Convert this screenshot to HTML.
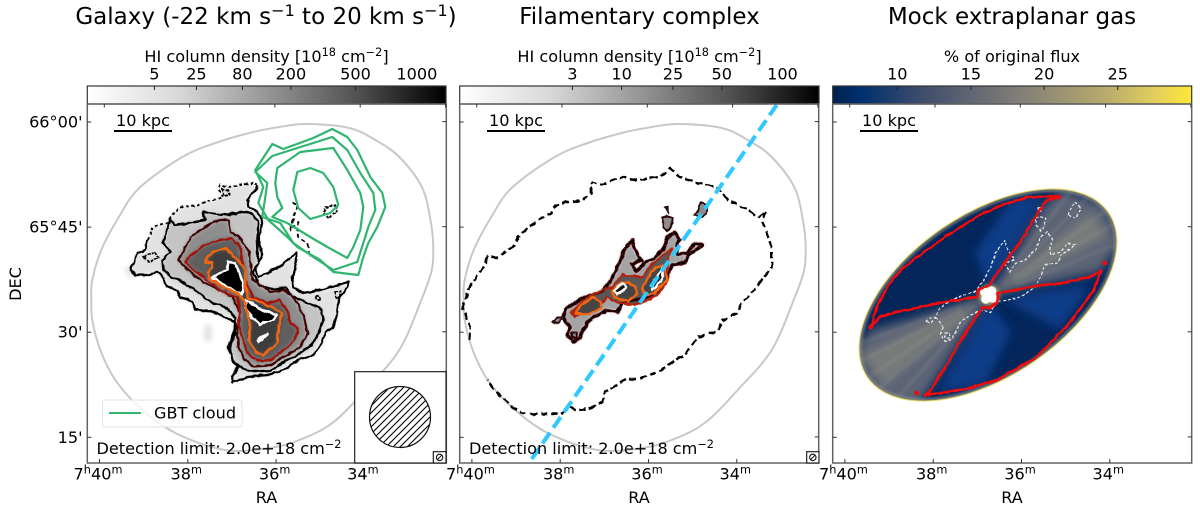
<!DOCTYPE html>
<html lang="en">
<head>
<meta charset="utf-8">
<title>HI column density maps</title>
<style>
  html, body { margin: 0; padding: 0; background: #fff; }
  svg { display: block; font-family: "DejaVu Sans", "Liberation Sans", sans-serif; fill: #000; }
</style>
</head>
<body>
<svg id="figure" xmlns="http://www.w3.org/2000/svg" width="1200" height="509" viewBox="0 0 1200 509">
  <defs>
    <linearGradient id="greys" x1="0" x2="1" y1="0" y2="0">
      <stop offset="0" stop-color="#ffffff"/><stop offset="0.25" stop-color="#d9d9d9"/>
      <stop offset="0.5" stop-color="#969696"/><stop offset="0.75" stop-color="#525252"/>
      <stop offset="1" stop-color="#000000"/>
    </linearGradient>
    <linearGradient id="cividis" x1="0" x2="1" y1="0" y2="0">
      <stop offset="0" stop-color="#00224e"/><stop offset="0.08" stop-color="#00306f"/>
      <stop offset="0.25" stop-color="#3f4d6c"/><stop offset="0.5" stop-color="#7c7b78"/>
      <stop offset="0.75" stop-color="#b5a86e"/><stop offset="0.9" stop-color="#e3cf5c"/>
      <stop offset="1" stop-color="#fee838"/>
    </linearGradient>
    <filter id="blur1" filterUnits="userSpaceOnUse" x="0" y="0" width="1200" height="509"><feGaussianBlur stdDeviation="1.2"/></filter>
    <filter id="blur3" filterUnits="userSpaceOnUse" x="0" y="0" width="1200" height="509"><feGaussianBlur stdDeviation="2.5"/></filter>
    <filter id="blur8" filterUnits="userSpaceOnUse" x="0" y="0" width="1200" height="509"><feGaussianBlur stdDeviation="9"/></filter>
    <filter id="blur5" filterUnits="userSpaceOnUse" x="0" y="0" width="1200" height="509"><feGaussianBlur stdDeviation="5"/></filter>
    <filter id="wiggle" filterUnits="userSpaceOnUse" x="0" y="0" width="1200" height="509" color-interpolation-filters="sRGB">
      <feTurbulence type="fractalNoise" baseFrequency="0.13" numOctaves="2" seed="4" result="n"/>
      <feDisplacementMap in="SourceGraphic" in2="n" scale="4" xChannelSelector="R" yChannelSelector="G"/>
    </filter>
    <filter id="wiggle-soft" filterUnits="userSpaceOnUse" x="0" y="0" width="1200" height="509" color-interpolation-filters="sRGB">
      <feTurbulence type="fractalNoise" baseFrequency="0.16" numOctaves="2" seed="9" result="n"/>
      <feDisplacementMap in="SourceGraphic" in2="n" scale="2.5" xChannelSelector="R" yChannelSelector="G"/>
    </filter>
    <pattern id="hatch" patternUnits="userSpaceOnUse" width="7" height="7">
      <path d="M-1,1 L1,-1 M0,7 L7,0 M6,8 L8,6" stroke="#000" stroke-width="1.1" fill="none"/>
    </pattern>
    <clipPath id="clip-0"><rect x="87.3" y="104" width="358.7" height="359"/></clipPath>
    <clipPath id="clip-1"><rect x="459.7" y="104" width="359.3" height="359"/></clipPath>
    <clipPath id="clip-2"><rect x="832.7" y="104" width="359" height="359"/></clipPath>
    <clipPath id="clip-ellipse"><ellipse cx="988" cy="295" rx="146" ry="81" transform="rotate(-34.3 988 295)"/></clipPath>
  </defs>

  <!-- titles -->
  <text x="266" y="24" font-size="23" text-anchor="middle">Galaxy (-22 km s<tspan dy="-8" font-size="16">−1</tspan><tspan dy="8"> to 20 km s</tspan><tspan dy="-8" font-size="16">−1</tspan><tspan dy="8">)</tspan></text>
  <text x="639.5" y="24" font-size="23" text-anchor="middle">Filamentary complex</text>
  <text x="1012" y="24" font-size="23" text-anchor="middle">Mock extraplanar gas</text>

  <!-- colourbar labels -->
  <text x="266.5" y="62" font-size="16.1" text-anchor="middle">HI column density [10<tspan dy="-6" font-size="11.3">18</tspan><tspan dy="6"> cm</tspan><tspan dy="-6" font-size="11.3">−2</tspan><tspan dy="6">]</tspan></text>
  <text x="639.5" y="62" font-size="16.1" text-anchor="middle">HI column density [10<tspan dy="-6" font-size="11.3">18</tspan><tspan dy="6"> cm</tspan><tspan dy="-6" font-size="11.3">−2</tspan><tspan dy="6">]</tspan></text>
  <text x="1012" y="62" font-size="16.1" text-anchor="middle">% of original flux</text>

  <!-- colourbars -->
  <rect x="87.3" y="86" width="358.7" height="18" fill="url(#greys)" stroke="#333" stroke-width="1.2"/>
  <rect x="459.7" y="86" width="359.3" height="18" fill="url(#greys)" stroke="#333" stroke-width="1.2"/>
  <rect x="832.7" y="86" width="359" height="18" fill="url(#cividis)" stroke="#333" stroke-width="1.2"/>

  <g id="panel-0"></g>
  <g id="panel-1"></g>
  <g id="panel-2"></g>

  <!-- axis titles -->
  <text transform="translate(21 284) rotate(-90)" font-size="16.1" text-anchor="middle">DEC</text>
  <text x="266.5" y="503" font-size="16.1" text-anchor="middle">RA</text>
  <text x="639" y="503" font-size="16.1" text-anchor="middle">RA</text>
  <text x="1012" y="503" font-size="16.1" text-anchor="middle">RA</text>

  <!-- legend + annotations panel 1 -->
  <g>
    <rect x="102.5" y="400" width="139.5" height="27" rx="2" fill="#fff" fill-opacity="0.8" stroke="#e2e2e2"/>
    <line x1="109" x2="141" y1="413" y2="413" stroke="#2fb56f" stroke-width="2"/>
    <text x="154" y="418.5" font-size="16.1">GBT cloud</text>
  </g>
  <text x="96.5" y="454" font-size="16.1">Detection limit: 2.0e+18 cm<tspan dy="-6" font-size="11.3">−2</tspan></text>
  <text x="469" y="454" font-size="16.1">Detection limit: 2.0e+18 cm<tspan dy="-6" font-size="11.3">−2</tspan></text>

  <rect x="354.7" y="371.7" width="91.3" height="91.3" fill="#fff" stroke="#111" stroke-width="1.1"/>
  <circle cx="400" cy="417" r="30.5" fill="url(#hatch)" stroke="#111" stroke-width="1.2"/>
  <rect x="433.3" y="451.7" width="12.7" height="11.3" fill="#fff" stroke="#111" stroke-width="1.1"/>
  <circle cx="439.6" cy="457.4" r="3.2" fill="none" stroke="#111" stroke-width="1.1"/>
  <line x1="437.4" y1="459.6" x2="441.8" y2="455.2" stroke="#111"/>
  <rect x="806.7" y="451.7" width="12.3" height="11.3" fill="#fff" stroke="#111" stroke-width="1.1"/>
  <circle cx="812.8" cy="457.4" r="3.2" fill="none" stroke="#111" stroke-width="1.1"/>
  <line x1="810.6" y1="459.6" x2="815" y2="455.2" stroke="#111"/>

  <!-- scale bars -->
  <g>
    <line x1="114" x2="172" y1="131" y2="131" stroke="#000" stroke-width="2"/>
    <text x="143" y="126" font-size="16.1" text-anchor="middle">10 kpc</text>
  </g>
  <g>
    <line x1="487" x2="545" y1="131" y2="131" stroke="#000" stroke-width="2"/>
    <text x="516" y="126" font-size="16.1" text-anchor="middle">10 kpc</text>
  </g>
  <g>
    <line x1="860" x2="918" y1="131" y2="131" stroke="#000" stroke-width="2"/>
    <text x="889" y="126" font-size="16.1" text-anchor="middle">10 kpc</text>
  </g>
</svg>

<script>
// ---------- axis values ----------
const raTicksMin = [40, 38, 36, 34];
const raTopTicksMin = [40, 38, 36, 34, 32];
const raTickLabels = ['40', '38', '36', '34'];
const decTicksArcmin = [0, 15, 30, 45];
const decTickLabels = ["66°00'", "65°45'", "30'", "15'"];

const colorbarGalaxyValues = [5, 25, 80, 200, 500, 1000];
const colorbarGalaxyFractions = [0.187, 0.304, 0.432, 0.567, 0.747, 0.918];
const colorbarFilamentValues = [3, 10, 25, 50, 100];
const colorbarFilamentFractions = [0.314, 0.451, 0.594, 0.73, 0.899];
const colorbarMockValues = [10, 15, 20, 25];
const colorbarMockFractions = [0.18, 0.385, 0.589, 0.794];

// ---------- map data: contour vertices in image-pixel coordinates of each map ----------
const galaxyFootprint = [[307,124],[349,128],[375,140],[399,157],[422,188],[431,225],[433,250],[431,272],[421,300],[399,350],[365,390],[332,423],[299,440],[269,448],[225,450],[175,433],[139,407],[115,380],[100,350],[92,320],[91,300],[92,280],[101,250],[118,218],[139,188],[182,157],[215,143],[249,133],[279,127]];

const galaxyLevel1Dotted = [[147,240],[153,227],[168,222],[173,213],[183,207],[197,205],[213,200],[223,197],[218,190],[220,185],[228,187],[240,185],[253,183],[258,186]];
const galaxyLevel1Solid = [[258,186],[247,200],[248,207],[258,212],[262,223],[258,240],[262,255],[255,268],[258,277],[277,268],[296,253],[296,262],[292,277],[293,288],[303,293],[320,290],[337,285],[348,282],[347,287],[337,303],[337,313],[333,327],[325,333],[320,345],[313,355],[297,360],[280,372],[267,375],[247,377],[232,383],[232,377],[238,367],[232,360],[230,347],[237,330],[235,322],[220,315],[210,312],[195,310],[192,302],[180,297],[177,290],[165,285],[163,277],[157,272],[147,275],[135,275],[130,270],[137,253],[145,250],[147,240]];
const galaxyLevel2 = [[245,212],[227,215],[203,212],[205,220],[190,223],[175,225],[170,220],[165,233],[163,243],[170,252],[162,260],[163,270],[172,278],[183,283],[197,292],[210,302],[227,308],[235,318],[234,332],[228,348],[235,363],[243,369],[255,372],[270,371],[283,362],[297,355],[312,345],[319,332],[323,320],[320,308],[307,303],[292,296],[285,288],[270,289],[258,285],[253,272],[258,262],[257,240],[258,222],[252,214]];
const galaxyLevel3 = [[228,220],[217,220],[203,228],[190,237],[182,253],[178,260],[187,270],[203,282],[220,290],[232,297],[240,313],[237,330],[238,347],[243,358],[253,366],[270,365],[287,355],[300,347],[307,333],[303,313],[292,296],[283,290],[270,292],[252,280],[250,265],[249,253],[238,236],[230,232]];
const galaxyLevel4 = [[232,238],[220,240],[203,245],[193,253],[185,262],[193,270],[207,280],[223,292],[237,298],[240,313],[238,323],[242,337],[247,353],[257,361],[270,360],[277,355],[287,348],[295,338],[298,328],[290,323],[288,313],[280,300],[267,303],[253,297],[245,280],[245,270],[241,257],[238,243]];
const galaxyLevel5 = [[205,262],[212,263],[212,268],[207,273],[212,280],[223,287],[237,293],[243,300],[250,322],[248,340],[255,352],[263,355],[277,343],[277,335],[280,323],[282,313],[270,307],[255,300],[248,298],[245,285],[245,270],[242,265],[233,255],[225,249],[212,252]];
const galaxyPeakA = [[212,277],[227,270],[228,262],[235,263],[240,275],[243,290],[242,295],[227,287]];
const galaxyPeakB = [[245,300],[252,303],[258,308],[267,312],[277,315],[273,320],[263,322],[260,325],[252,317],[245,308]];
const galaxyPeakC = [[257,340],[267,333],[265,337],[258,342]];
const galaxyIslands = [
  [[143,257],[155,252],[158,258],[148,262]],
  [[222,189],[228,190],[229,195],[224,196]],
  [[335,292],[340,291],[341,297],[336,299]],
  [[316,296],[320,296],[320,300],[316,300]],
  [[325,207],[337,205],[335,213],[328,218],[323,212]]
];
const galaxyDashBits = [[292,202],[297,205],[293,217],[290,230],[298,222],[297,237],[307,243],[310,257]];
const galaxyFaintPatches = [
  [[204,325],[211,325],[212,338],[208,343],[203,338]],
  [[124,268],[130,266],[136,276],[128,278]]
];

const gbtContour1 = [[272,144],[283,149],[313,138],[332,129],[347,137],[357,150],[370,177],[382,193],[385,207],[377,227],[368,243],[363,257],[358,275],[333,272],[320,260],[297,247],[287,237],[268,220],[258,203],[263,187],[255,170]];
const gbtContour2 = [[272,156],[297,148],[332,137],[347,150],[360,173],[373,193],[375,210],[368,227],[363,243],[357,262],[333,270],[313,257],[293,243],[280,223],[262,217],[265,197],[267,183],[255,172]];
const gbtContour3 = [[277,168],[300,152],[333,148],[347,170],[360,193],[363,207],[360,230],[353,247],[347,258],[327,247],[310,237],[287,223],[272,217],[282,208],[277,197],[275,183]];
const gbtContour4 = [[297,172],[310,168],[323,173],[333,187],[338,205],[330,213],[310,219],[298,208],[293,190]];

const filamentDetectionLimit = [[470,340],[471,327],[465,313],[463,308],[467,295],[472,283],[483,268],[488,257],[498,258],[515,245],[518,237],[538,220],[552,213],[555,205],[562,203],[583,200],[592,193],[590,185],[593,182],[602,185],[622,177],[638,180],[652,178],[663,175],[670,168],[677,175],[695,182],[718,188],[728,200],[745,208],[758,217],[767,212],[762,220],[772,247],[772,267],[757,287],[742,303],[738,313],[723,320],[718,331],[697,338],[685,355],[675,360],[662,370],[638,379],[627,379],[605,392],[602,402],[592,408],[575,410],[570,407],[562,414],[542,414],[523,413],[512,407],[505,400],[497,392],[487,380]];
const filamentLevel1 = [[570,327],[568,335],[573,342],[580,338],[587,323],[595,317],[607,310],[618,312],[623,302],[635,300],[648,297],[662,288],[668,277],[672,265],[685,263],[688,255],[703,245],[695,243],[688,252],[678,255],[677,247],[680,240],[675,232],[668,237],[663,250],[652,260],[643,263],[637,272],[632,263],[642,260],[635,250],[632,240],[623,253],[618,267],[610,282],[602,292],[585,297],[567,308],[563,317]];
const filamentLevel4 = [[612,287],[622,275],[642,277],[655,262],[672,248],[668,260],[668,280],[658,295],[635,305],[618,303],[608,297],[595,310],[575,317],[572,312],[588,297],[608,288]];
const filamentOrangeA = [[575,313],[582,305],[593,297],[600,302],[602,308],[592,312],[582,315]];
const filamentOrangeB = [[612,290],[622,282],[635,285],[637,293],[628,302],[615,297]];
const filamentOrangeC = [[643,287],[655,268],[665,265],[667,280],[655,293],[645,295]];
const filamentPeakA = [[614,290],[623,283],[626,288],[618,295]];
const filamentPeakB = [[652,290],[655,280],[663,268],[663,277],[657,287]];
const filamentIslands = [
  [[663,218],[667,216],[673,218],[672,226],[668,231],[664,226]],
  [[695,215],[699,207],[702,202],[708,208],[706,214],[703,218]],
  [[553,322],[557,318],[563,318],[558,323]],
  [[665,208],[668,207],[668,212]],
  [[572,333],[577,333],[577,338],[572,338]]
];
const filamentAxisLine = [[532,459],[777,105]];

const mockContourA = [[871,327],[877,307],[890,283],[903,268],[927,250],[953,232],[980,215],[1007,203],[1030,197],[1052,196],[1059,197],[1048,200],[1043,205],[1032,223],[1020,243],[1012,253],[1003,266],[995,277],[990,285],[978,290],[977,297],[940,303],[897,312],[880,317],[871,327]];
const mockContourB = [[1102,270],[1093,292],[1070,323],[1037,357],[997,380],[963,390],[925,395],[932,390],[937,380],[947,365],[963,337],[983,307],[990,308],[998,302],[998,293],[1043,285],[1063,283],[1090,277],[1102,270]];
const mockContourDots = [[871,327],[1059,197],[1105,263],[917,393]];
const mockGreyWedgeLeft = [[989,296],[871,330],[855,352],[878,398],[915,408],[932,385]];
const mockGreyWedgeRight = [[989,296],[1005,270],[1045,205],[1062,190],[1105,205],[1122,242],[1100,272]];
const mockGreyCoreLeft = [[989,296],[862,355],[885,385]];
const mockGreyCoreRight = [[989,296],[1090,212],[1108,236]];
const mockBlueWedgeUpper = [[989,288],[1045,195],[1012,200],[975,252]];
const mockBlueWedgeLower = [[989,302],[938,392],[985,385],[1012,332]];
const mockBlueWedgeEdge = [[1002,298],[1092,284],[1060,330]];
const mockCentreLobes = [[985,292],[992,291],[993,298],[986,299],[989,295]];
const mockRayAngles = [132, 140, 146, 153, 160, -22, -30, -36, -45, -52];

// ---------- geometry ----------
const panelLeft = [87.3, 459.7, 832.7];
const panelWidth = 359;
const plotTop = 104;
const plotBottom = 463;
const galaxyFrame = { i0: 87, j0: 104 };
const filamentFrame = { i0: 460, j0: 104 };
const mockFrame = { i0: 833, j0: 104 };
const SVG_NS = 'http://www.w3.org/2000/svg';

function raBottomX(panel, ra) { return panelLeft[panel] + 12.2 + (40 - ra) * 44.15; }
function raTopX(panel, ra) { return panelLeft[panel] + 17 + (40 - ra) * 42.65; }
function decY(arcmin) { return 122 + arcmin * 7.007; }
function mapX(panel, frame, i) { return panelLeft[panel] + (i - frame.i0); }
function mapY(frame, j) { return plotTop + (j - frame.j0); }

function mk(parent, tag, attrs, text) {
  const el = document.createElementNS(SVG_NS, tag);
  for (const key in attrs) el.setAttribute(key, attrs[key]);
  if (text !== undefined) el.textContent = text;
  parent.appendChild(el);
  return el;
}

function linePath(points, panel, frame, closed) {
  let d = '';
  points.forEach(function (p, n) {
    d += (n ? 'L' : 'M') + mapX(panel, frame, p[0]).toFixed(1) + ',' + mapY(frame, p[1]).toFixed(1);
  });
  return d + (closed ? 'Z' : '');
}

function smoothClosedPath(points, panel, frame) {
  const q = points.map(function (p) { return [mapX(panel, frame, p[0]), mapY(frame, p[1])]; });
  const n = q.length;
  let d = 'M' + q[0][0].toFixed(1) + ',' + q[0][1].toFixed(1);
  for (let k = 0; k < n; k++) {
    const a = q[(k - 1 + n) % n], b = q[k], c = q[(k + 1) % n], e = q[(k + 2) % n];
    d += 'C' + (b[0] + (c[0] - a[0]) / 6).toFixed(1) + ',' + (b[1] + (c[1] - a[1]) / 6).toFixed(1) + ' ' +
      (c[0] - (e[0] - b[0]) / 6).toFixed(1) + ',' + (c[1] - (e[1] - b[1]) / 6).toFixed(1) + ' ' +
      c[0].toFixed(1) + ',' + c[1].toFixed(1);
  }
  return d + 'Z';
}

function strokeAttrs(d, color, width, dash) {
  const a = { d: d, fill: 'none', stroke: color, 'stroke-width': width, 'stroke-linejoin': 'round', 'stroke-linecap': 'butt' };
  if (dash) a['stroke-dasharray'] = dash;
  return a;
}

// ---------- panel 1: galaxy ----------
const g0 = document.getElementById('panel-0');
const clip0 = mk(g0, 'g', { 'clip-path': 'url(#clip-0)' });



const fill0 = mk(clip0, 'g', { filter: 'url(#blur3)' });



galaxyFaintPatches.forEach(function (patch) {
  const el = mk(fill0, 'path', { d: linePath(patch, 0, galaxyFrame, true), fill: '#e4e4e4' });
  
  
});
const fillStack = [
  [galaxyLevel1Dotted.concat(galaxyLevel1Solid), '#e2e2e2'],
  [galaxyLevel2, '#c4c4c4'],
  [galaxyLevel3, '#8e8e8e'],
  [galaxyLevel4, '#5f5f5f'],
  [galaxyLevel5, '#3c3c3c']
];
fillStack.forEach(function (layer) {
  const el = mk(fill0, 'path', { d: linePath(layer[0], 0, galaxyFrame, true), fill: layer[1] });
  
  
});

const footprint0 = mk(clip0, 'path', strokeAttrs(smoothClosedPath(galaxyFootprint, 0, galaxyFrame), '#c8c8c8', 2));



const lines0 = mk(clip0, 'g', { filter: 'url(#wiggle)' });



[galaxyPeakA, galaxyPeakB, galaxyPeakC].forEach(function (peak) {
  const el = mk(lines0, 'path', { d: linePath(peak, 0, galaxyFrame, true), fill: '#000', stroke: '#fff', 'stroke-width': 2.4, 'stroke-linejoin': 'round' });
  
  
});
const c1a = mk(lines0, 'path', strokeAttrs(linePath(galaxyLevel1Dotted, 0, galaxyFrame), '#000', 1.9, '3 2.5'));


const c1b = mk(lines0, 'path', strokeAttrs(linePath(galaxyLevel1Solid, 0, galaxyFrame), '#000', 2.2));


const c2 = mk(lines0, 'path', strokeAttrs(linePath(galaxyLevel2, 0, galaxyFrame, true), '#000', 2.2));


const c3 = mk(lines0, 'path', strokeAttrs(linePath(galaxyLevel3, 0, galaxyFrame, true), '#400505', 2.2));


const c4 = mk(lines0, 'path', strokeAttrs(linePath(galaxyLevel4, 0, galaxyFrame, true), '#a31208', 2.2));


const c5 = mk(lines0, 'path', strokeAttrs(linePath(galaxyLevel5, 0, galaxyFrame, true), '#f2650f', 2.5));


galaxyIslands.forEach(function (island) {
  const el = mk(lines0, 'path', strokeAttrs(linePath(island, 0, galaxyFrame, true), '#000', 1.8, '3 1.2'));
  
  
});
const bits0 = mk(lines0, 'path', strokeAttrs(linePath(galaxyDashBits, 0, galaxyFrame), '#000', 1.9, '4 3'));



[gbtContour1, gbtContour2, gbtContour3, gbtContour4].forEach(function (contour) {
  const el = mk(clip0, 'path', strokeAttrs(linePath(contour, 0, galaxyFrame, true), '#2fb56f', 2.2));
  
  
});

// ---------- panel 2: filament ----------
const g1 = document.getElementById('panel-1');
const clip1 = mk(g1, 'g', { 'clip-path': 'url(#clip-1)' });



const footprint1 = mk(clip1, 'path', strokeAttrs(smoothClosedPath(galaxyFootprint, 1, galaxyFrame), '#c8c8c8', 2));



const halo = mk(clip1, 'path', { d: linePath(filamentLevel1, 1, filamentFrame, true), fill: '#a4a4a4', stroke: '#cfcfcf', 'stroke-width': 3, filter: 'url(#blur1)' });



const lines1 = mk(clip1, 'g', { filter: 'url(#wiggle)' });



filamentIslands.forEach(function (island) {
  const el = mk(lines1, 'path', { d: linePath(island, 1, filamentFrame, true), fill: '#8c8c8c', stroke: '#2a0505', 'stroke-width': 1.9 });
  
  
});
const fil4Fill = mk(lines1, 'path', { d: linePath(filamentLevel4, 1, filamentFrame, true), fill: '#585858' });



const filUnder = mk(lines1, 'path', strokeAttrs(linePath(filamentLevel1, 1, filamentFrame, true), '#550808', 3.4));


const filBlack = mk(lines1, 'path', strokeAttrs(linePath(filamentLevel1, 1, filamentFrame, true), '#000', 2.1, '4 1.5'));


const filRed = mk(lines1, 'path', strokeAttrs(linePath(filamentLevel4, 1, filamentFrame, true), '#b5200c', 2.1));


[filamentOrangeA, filamentOrangeB, filamentOrangeC].forEach(function (blob) {
  const el = mk(lines1, 'path', { d: linePath(blob, 1, filamentFrame, true), fill: '#454545', stroke: '#f2650f', 'stroke-width': 2.4, 'stroke-linejoin': 'round' });
  
  
});
[filamentPeakA, filamentPeakB].forEach(function (peak) {
  const el = mk(lines1, 'path', { d: linePath(peak, 1, filamentFrame, true), fill: '#111', stroke: '#fff', 'stroke-width': 2.4, 'stroke-linejoin': 'round' });
  
  
});
const detLimit = mk(lines1, 'path', strokeAttrs(linePath(filamentDetectionLimit, 1, filamentFrame), '#000', 2.4, '7 3.5'));


const axisLine = mk(clip1, 'path', strokeAttrs(linePath(filamentAxisLine, 1, filamentFrame), '#2fc8ff', 4, '13 6'));



// ---------- panel 3: mock ----------
const g2 = document.getElementById('panel-2');
const clip2 = mk(g2, 'g', { 'clip-path': 'url(#clip-2)' });



const img = mk(clip2, 'g', { 'clip-path': 'url(#clip-ellipse)' });


const base = mk(img, 'rect', { x: 840, y: 170, width: 300, height: 250, fill: '#03255a' });


[mockBlueWedgeUpper, mockBlueWedgeLower, mockBlueWedgeEdge].forEach(function (w) {
  const el = mk(img, 'path', { d: linePath(w, 2, mockFrame, true), fill: '#0b3c88', filter: 'url(#blur5)' });
  
  
});
[mockGreyWedgeLeft, mockGreyWedgeRight].forEach(function (w) {
  const el = mk(img, 'path', { d: linePath(w, 2, mockFrame, true), fill: '#5c6376', filter: 'url(#blur5)' });
  
  
});
[mockGreyCoreLeft, mockGreyCoreRight].forEach(function (w) {
  const el = mk(img, 'path', { d: linePath(w, 2, mockFrame, true), fill: '#84847c', 'fill-opacity': 0.7, filter: 'url(#blur5)' });
  
  
});
const rayGroup = mk(img, 'g', { filter: 'url(#blur1)' });


mockRayAngles.forEach(function (angle) {
  const t = angle * Math.PI / 180;
  const el = mk(rayGroup, 'line', {
    x1: 989 + 30 * Math.cos(t), y1: 296 + 30 * Math.sin(t),
    x2: 989 + 170 * Math.cos(t), y2: 296 + 170 * Math.sin(t),
    stroke: '#a0a094', 'stroke-opacity': 0.16, 'stroke-width': 4
  });
  
  
});
const rim = mk(img, 'ellipse', { cx: 988, cy: 295, rx: 146, ry: 81, transform: 'rotate(-34.3 988 295)', fill: 'none', stroke: '#8e8e84', 'stroke-width': 6, 'stroke-opacity': 0.75, filter: 'url(#blur1)' });


const rimGold = mk(clip2, 'ellipse', { cx: 988, cy: 295, rx: 146, ry: 81, transform: 'rotate(-34.3 988 295)', fill: 'none', stroke: '#eddc66', 'stroke-width': 1 });


const glow = mk(img, 'circle', { cx: 989, cy: 295, r: 10, fill: '#cdbb60', filter: 'url(#blur3)' });


mockCentreLobes.forEach(function (lobe) {
  const el = mk(img, 'circle', { cx: mapX(2, mockFrame, lobe[0]), cy: mapY(mockFrame, lobe[1]), r: 4.6, fill: '#fff' });
  
  
});

const lines2 = mk(clip2, 'g', { filter: 'url(#wiggle-soft)' });


[filamentLevel1].concat(filamentIslands).forEach(function (contour) {
  const el = mk(lines2, 'path', strokeAttrs(linePath(contour, 2, filamentFrame, true), '#eeeeee', 1.2, '3 2'));
  
  
});
[mockContourA, mockContourB].forEach(function (contour) {
  const el = mk(lines2, 'path', strokeAttrs(linePath(contour, 2, mockFrame), '#f40a0a', 2.5));
  
  
});
mockContourDots.forEach(function (dot) {
  const el = mk(clip2, 'circle', { cx: mapX(2, mockFrame, dot[0]), cy: mapY(mockFrame, dot[1]), r: 2.4, fill: '#f40a0a' });
  
  
});

// ---------- axes ----------
[0, 1, 2].forEach(function (panel) {
  const g = document.getElementById('panel-' + panel);
  const left = panelLeft[panel];
  const right = left + panelWidth;

  const spine = mk(g, 'rect', { x: left, y: plotTop, width: panelWidth, height: plotBottom - plotTop, fill: 'none', stroke: '#626262', 'stroke-width': 1.5 });
  
  

  raTicksMin.forEach(function (ra, k) {
    const x = raBottomX(panel, ra);
    const tick = mk(g, 'line', { x1: x, x2: x, y1: plotBottom, y2: plotBottom - 4, stroke: '#333', 'stroke-width': 1 });
    
    
    const label = mk(g, 'text', { x: x - 1.5, y: 479.5, 'font-size': 16.1, 'text-anchor': 'middle' });
    
    
    if (k === 0) {
      mk(label, 'tspan', {}, '7');
      mk(label, 'tspan', { dy: -6, 'font-size': 11.3 }, 'h');
      mk(label, 'tspan', { dy: 6 }, raTickLabels[k]);
    } else {
      mk(label, 'tspan', {}, raTickLabels[k]);
    }
    mk(label, 'tspan', { dy: -6, 'font-size': 11.3 }, 'm');
  });
  raTopTicksMin.forEach(function (ra) {
    const x = raTopX(panel, ra);
    const tick = mk(g, 'line', { x1: x, x2: x, y1: plotTop, y2: plotTop + 3.5, stroke: '#333', 'stroke-width': 1 });
    
    
  });
  decTicksArcmin.forEach(function (dec, k) {
    const y = decY(dec);
    const tickL = mk(g, 'line', { x1: left, x2: left + 4, y1: y, y2: y, stroke: '#333', 'stroke-width': 1 });
    
    
    const tickR = mk(g, 'line', { x1: right, x2: right - 4, y1: y - 0.4, y2: y - 0.4, stroke: '#333', 'stroke-width': 1 });
    
    
    if (panel === 0) {
      const label = mk(g, 'text', { x: 82.5, y: y + 5.5, 'font-size': 16.1, 'text-anchor': 'end' }, decTickLabels[k]);
      
      
    }
  });
});

// ---------- colourbar ticks ----------
function colorbarTicks(panel, fractions, values) {
  const g = document.getElementById('panel-' + panel);
  fractions.forEach(function (f, k) {
    const x = panelLeft[panel] + f * panelWidth;
    const tick = mk(g, 'line', { x1: x, x2: x, y1: 86, y2: 90, stroke: '#222', 'stroke-width': 1 });
    
    
    const label = mk(g, 'text', { x: x, y: 79.5, 'font-size': 16.1, 'text-anchor': 'middle' }, String(values[k]));
    
    
  });
}
colorbarTicks(0, colorbarGalaxyFractions, colorbarGalaxyValues);
colorbarTicks(1, colorbarFilamentFractions, colorbarFilamentValues);
colorbarTicks(2, colorbarMockFractions, colorbarMockValues);
</script>
</body>
</html>
